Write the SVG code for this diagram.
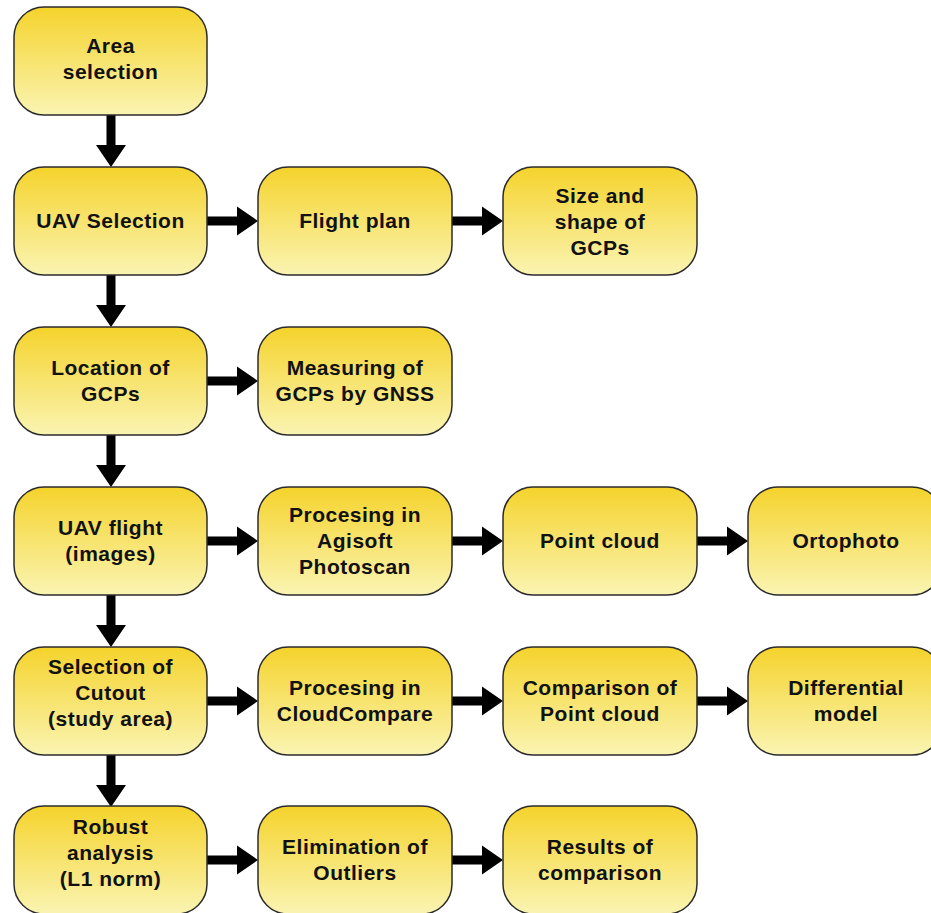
<svg xmlns="http://www.w3.org/2000/svg" width="931" height="913" viewBox="0 0 931 913">
<defs>
<linearGradient id="g" x1="0" y1="0" x2="0" y2="1">
<stop offset="0" stop-color="#F5D32C"/>
<stop offset="1" stop-color="#FAF4B2"/>
</linearGradient>
<path id="ha" d="M0,-4.5 H30 V-14.5 L51,0 L30,14.5 V4.5 H0 Z"/>
<path id="va" d="M-4.5,0 V30 H-15 L0,52 L15,30 H4.5 V0 Z"/>
</defs>
<style>
rect.b{fill:url(#g);stroke:#2b2b2b;stroke-width:1.5}
text{font-family:"Liberation Sans",Arial,sans-serif;font-weight:bold;font-size:21px;letter-spacing:0.5px;fill:#111;text-anchor:middle}
.c use{fill:#000}
</style>
<rect width="931" height="913" fill="#fff"/>
<g class="c" id="connectors">
<use href="#va" x="111" y="115"/>
<use href="#va" x="111" y="275"/>
<use href="#va" x="111" y="435"/>
<use href="#va" x="111" y="595"/>
<use href="#va" x="111" y="755"/>
<use href="#ha" x="207" y="221"/>
<use href="#ha" x="452" y="221"/>
<use href="#ha" x="207" y="381"/>
<use href="#ha" x="207" y="541"/>
<use href="#ha" x="452" y="541"/>
<use href="#ha" x="697" y="541"/>
<use href="#ha" x="207" y="701"/>
<use href="#ha" x="452" y="701"/>
<use href="#ha" x="697" y="701"/>
<use href="#ha" x="207" y="860"/>
<use href="#ha" x="452" y="860"/>
</g>
<g id="n1"><rect class="b" x="14" y="7" width="193" height="108" rx="30"/><text x="110.5" y="53">Area</text><text x="110.5" y="79">selection</text></g>
<g id="n2"><rect class="b" x="14" y="167" width="193" height="108" rx="30"/><text x="110.5" y="228">UAV Selection</text></g>
<g id="n3"><rect class="b" x="258" y="167" width="194" height="108" rx="30"/><text x="355" y="228">Flight plan</text></g>
<g id="n4"><rect class="b" x="503" y="167" width="194" height="108" rx="30"/><text x="600" y="203">Size and</text><text x="600" y="229">shape of</text><text x="600" y="255">GCPs</text></g>
<g id="n5"><rect class="b" x="14" y="327" width="193" height="108" rx="30"/><text x="110.5" y="375">Location of</text><text x="110.5" y="401">GCPs</text></g>
<g id="n6"><rect class="b" x="258" y="327" width="194" height="108" rx="30"/><text x="355" y="375">Measuring of</text><text x="355" y="401">GCPs by GNSS</text></g>
<g id="n7"><rect class="b" x="14" y="487" width="193" height="108" rx="30"/><text x="110.5" y="535">UAV flight</text><text x="110.5" y="561">(images)</text></g>
<g id="n8"><rect class="b" x="258" y="487" width="194" height="108" rx="30"/><text x="355" y="522">Procesing in</text><text x="355" y="548">Agisoft</text><text x="355" y="574">Photoscan</text></g>
<g id="n9"><rect class="b" x="503" y="487" width="194" height="108" rx="30"/><text x="600" y="548">Point cloud</text></g>
<g id="n10"><rect class="b" x="748" y="487" width="194" height="108" rx="30"/><text x="846" y="548">Ortophoto</text></g>
<g id="n11"><rect class="b" x="14" y="647" width="193" height="108" rx="30"/><text x="110.5" y="674">Selection of</text><text x="110.5" y="700">Cutout</text><text x="110.5" y="726">(study area)</text></g>
<g id="n12"><rect class="b" x="258" y="647" width="194" height="108" rx="30"/><text x="355" y="695">Procesing in</text><text x="355" y="721">CloudCompare</text></g>
<g id="n13"><rect class="b" x="503" y="647" width="194" height="108" rx="30"/><text x="600" y="695">Comparison of</text><text x="600" y="721">Point cloud</text></g>
<g id="n14"><rect class="b" x="748" y="647" width="194" height="108" rx="30"/><text x="846" y="695">Differential</text><text x="846" y="721">model</text></g>
<g id="n15"><rect class="b" x="14" y="806" width="193" height="108" rx="30"/><text x="110.5" y="834">Robust</text><text x="110.5" y="860">analysis</text><text x="110.5" y="886">(L1 norm)</text></g>
<g id="n16"><rect class="b" x="258" y="806" width="194" height="108" rx="30"/><text x="355" y="854">Elimination of</text><text x="355" y="880">Outliers</text></g>
<g id="n17"><rect class="b" x="503" y="806" width="194" height="108" rx="30"/><text x="600" y="854">Results of</text><text x="600" y="880">comparison</text></g>
</svg>
